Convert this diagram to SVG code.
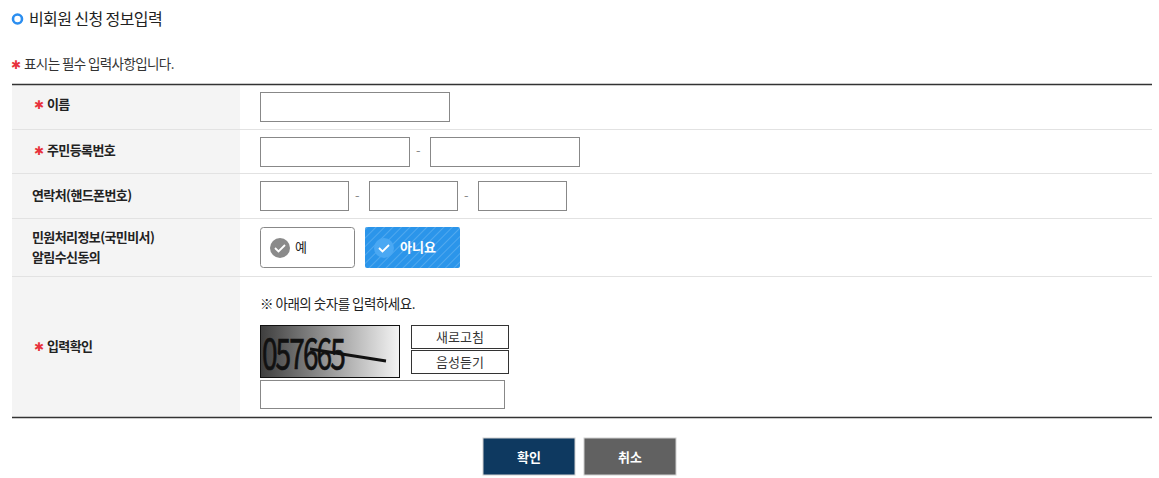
<svg xmlns="http://www.w3.org/2000/svg" width="1159" height="478" viewBox="0 0 1159 478">
<style>
text{font-family:"Noto Sans CJK KR","Noto Sans",sans-serif;}
.lbl{font-size:13px;font-weight:bold;fill:#222;letter-spacing:-0.6px;}
.star{fill:#e8323c;font-size:12px;font-family:"DejaVu Sans",sans-serif;}
.inp{fill:#fff;stroke:#888;stroke-width:1;}
.sep{stroke:#e2e2e2;stroke-width:1;}
.dash{font-size:13px;fill:#888;}
.sbtn{fill:#fff;stroke:#333;stroke-width:1;}
.stxt{font-size:13px;fill:#333;text-anchor:middle;}
</style>
<defs>
<pattern id="stripes" width="6" height="6" patternUnits="userSpaceOnUse" patternTransform="rotate(45)">
<rect width="6" height="6" fill="#2b95ea"/>
<line x1="0" y1="0" x2="0" y2="6" stroke="#ffffff" stroke-opacity="0.35" stroke-width="1"/>
</pattern>
<linearGradient id="cap" x1="0" y1="0" x2="1" y2="0">
<stop offset="0" stop-color="#3e3e3e"/>
<stop offset="1" stop-color="#f4f4f4"/>
</linearGradient>
</defs>
<rect width="1159" height="478" fill="#fff"/>

<g id="title">
<circle cx="17.5" cy="19" r="4.5" fill="none" stroke="#2b8ef0" stroke-width="2.6"/>
<text x="29" y="25" font-size="16" fill="#222" letter-spacing="-0.6">비회원 신청 정보입력</text>
</g>
<g id="note">
<text x="11" y="69" class="star">✱</text>
<text x="24" y="69" font-size="13.5" fill="#333" letter-spacing="-0.6">표시는 필수 입력사항입니다.</text>
</g>

<g id="table">
<rect x="12" y="85" width="228" height="332" fill="#f4f4f4"/>
<line class="sep" x1="12" y1="129.5" x2="1152" y2="129.5"/>
<line class="sep" x1="12" y1="173.5" x2="1152" y2="173.5"/>
<line class="sep" x1="12" y1="218.5" x2="1152" y2="218.5"/>
<line class="sep" x1="12" y1="276.5" x2="1152" y2="276.5"/>
<line x1="12" y1="84.5" x2="1152" y2="84.5" stroke="#333" stroke-width="1.5"/>
<line x1="12" y1="417.5" x2="1152" y2="417.5" stroke="#333" stroke-width="1.5"/>
</g>

<g id="row-name">
<text x="34" y="109" class="star">✱</text>
<text x="47" y="109" class="lbl">이름</text>
<rect class="inp" x="260.5" y="92.5" width="189" height="29"/>
</g>

<g id="row-rrn">
<text x="34" y="155" class="star">✱</text>
<text x="47" y="155" class="lbl">주민등록번호</text>
<rect class="inp" x="260.5" y="137.5" width="149" height="29"/>
<text x="416" y="155" class="dash">-</text>
<rect class="inp" x="430.5" y="137.5" width="149" height="29"/>
</g>

<g id="row-phone">
<text x="32" y="200" class="lbl">연락처(핸드폰번호)</text>
<rect class="inp" x="260.5" y="181.5" width="88" height="29"/>
<text x="355" y="200" class="dash">-</text>
<rect class="inp" x="369.5" y="181.5" width="88" height="29"/>
<text x="464" y="200" class="dash">-</text>
<rect class="inp" x="478.5" y="181.5" width="88" height="29"/>
</g>

<g id="row-agree">
<text x="32" y="242" class="lbl">민원처리정보(국민비서)</text>
<text x="32" y="262" class="lbl">알림수신동의</text>
<g id="opt-yes">
<rect x="260.5" y="227.5" width="94" height="40" rx="3" fill="#fff" stroke="#888"/>
<circle cx="280" cy="248" r="10" fill="#8a8a8a"/>
<path d="M275 248 l3.5 3.5 l6.5 -6.5" fill="none" stroke="#fff" stroke-width="1.8"/>
<text x="295" y="252" font-size="13" fill="#222">예</text>
</g>
<g id="opt-no">
<rect x="365" y="227" width="95" height="41" rx="2" fill="url(#stripes)"/>
<circle cx="384" cy="248" r="10" fill="#4aa8f3"/>
<path d="M379 248 l3.5 3.5 l6.5 -6.5" fill="none" stroke="#fff" stroke-width="1.8"/>
<text x="400" y="252" font-size="13" font-weight="bold" fill="#fff">아니요</text>
</g>
</g>

<g id="row-captcha">
<text x="34" y="351" class="star">✱</text>
<text x="47" y="351" class="lbl">입력확인</text>
<text x="260" y="309" font-size="13.5" fill="#222" letter-spacing="-0.5">※ 아래의 숫자를 입력하세요.</text>
<g id="captcha-img">
<rect x="260.5" y="325.5" width="139" height="52" fill="url(#cap)" stroke="#111" stroke-width="1"/>
<text x="262" y="369" font-family="Liberation Sans,sans-serif" font-size="36" fill="#111" stroke="#111" stroke-width="0.6" transform="translate(262 369) scale(0.78 1.15) translate(-262 -369)" letter-spacing="-2.5">057665</text>
<line x1="310" y1="349" x2="386" y2="361" stroke="#111" stroke-width="2.8"/>
</g>
<g id="btn-refresh">
<rect class="sbtn" x="411.5" y="325.5" width="97" height="23"/>
<text x="460" y="342" class="stxt">새로고침</text>
</g>
<g id="btn-audio">
<rect class="sbtn" x="411.5" y="350.5" width="97" height="23"/>
<text x="460" y="367" class="stxt">음성듣기</text>
</g>
<rect class="inp" x="260.5" y="380.5" width="244" height="28"/>
</g>

<g id="btn-ok">
<rect x="483" y="438" width="92" height="37" fill="#0e3960" stroke="#d0d0d0" stroke-width="1"/>
<text x="529" y="462" font-size="13" font-weight="bold" fill="#fff" text-anchor="middle">확인</text>
</g>
<g id="btn-cancel">
<rect x="584" y="438" width="92" height="37" fill="#616161" stroke="#d0d0d0" stroke-width="1"/>
<text x="630" y="462" font-size="13" font-weight="bold" fill="#fff" text-anchor="middle">취소</text>
</g>
</svg>
